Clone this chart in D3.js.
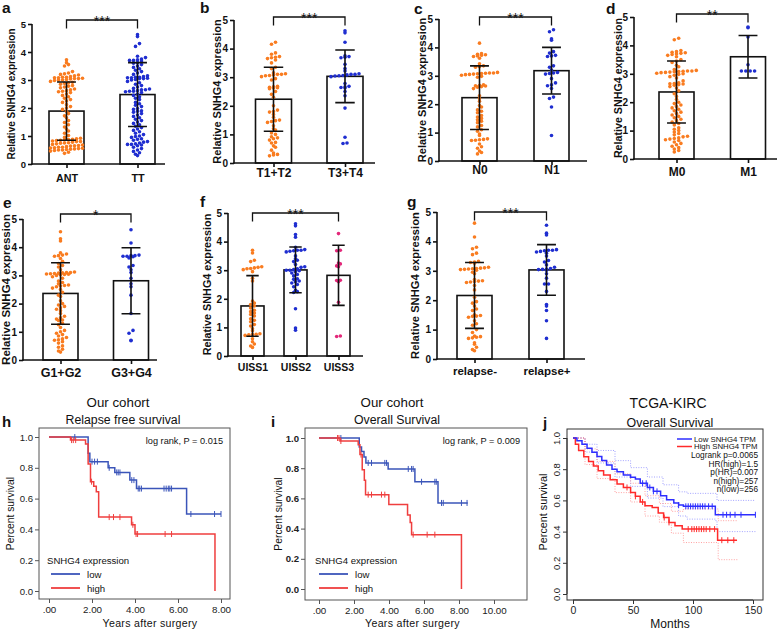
<!DOCTYPE html>
<html><head><meta charset="utf-8">
<script src="https://cdn.jsdelivr.net/npm/d3@7"></script>
<style>body{margin:0;background:#fff} svg{display:block}</style>
</head><body><svg id="fig" width="784" height="630"></svg>
<script>
var FONT = '"Liberation Sans", Arial, sans-serif';
var ORANGE = "#f97c20", BLUE = "#1f2ed0", PINK = "#e3287a";

// ---- scatter/bar data (SNHG4 expression) ----
var catsA = ["ANT", "TT"];
var meanA = [1.89, 2.48], sdA = [1.04, 1.14];
var antVals = [3.72,3.62,3.55,3.5,3.3,3.25,3.22,3.2,3.18,3.15,3.12,3.1,3.1,3.08,3.08,3.06,3.05,3.05,3.04,3.02,3.0,3.0,2.98,2.95,2.92,2.9,2.88,2.85,2.8,2.78,2.75,2.72,2.68,2.65,2.62,2.6,2.58,2.55,2.5,2.45,2.4,2.35,2.3,2.25,2.2,2.12,2.05,2.0,1.95,1.88,1.8,1.72,1.65,1.55,1.48,1.4,1.32,1.25,1.18,1.1,1.02,0.95,0.92,0.9,0.88,0.87,0.86,0.85,0.84,0.82,0.8,0.8,0.78,0.76,0.75,0.74,0.72,0.7,0.68,0.66,0.65,0.64,0.62,0.6,0.6,0.58,0.57,0.56,0.55,0.54,0.53,0.52,0.5,0.5,0.48,0.46,0.42,0.38];
var ttVals = [4.62,4.55,4.3,4.2,3.85,3.8,3.75,3.72,3.7,3.7,3.68,3.62,3.6,3.55,3.5,3.45,3.4,3.35,3.3,3.25,3.2,3.15,3.12,3.1,3.1,3.08,3.08,3.06,3.05,3.05,3.02,3.0,2.95,2.9,2.85,2.8,2.75,2.7,2.68,2.65,2.65,2.62,2.6,2.6,2.58,2.55,2.5,2.45,2.4,2.35,2.3,2.2,2.15,2.1,2.05,1.98,1.95,1.9,1.88,1.85,1.8,1.75,1.7,1.65,1.6,1.55,1.5,1.45,1.4,1.35,1.3,1.25,1.2,1.15,1.1,1.05,1.0,0.98,0.95,0.9,0.88,0.85,0.8,0.78,0.75,0.72,0.7,0.7,0.68,0.65,0.6,0.55,0.5,0.45,0.4,0.35,0.3];

var catsB = ["T1+T2", "T3+T4"];
var meanB = [2.23, 3.03], sdB = [1.12, 0.92];
var t12Vals = [4.22,4.15,3.85,3.8,3.72,3.7,3.68,3.65,3.6,3.5,3.35,3.3,3.15,3.12,3.1,3.1,3.08,3.06,3.05,3.02,2.95,2.9,2.68,2.66,2.65,2.63,2.62,2.6,2.5,2.4,2.3,2.0,1.85,1.8,1.78,1.7,1.6,1.5,1.48,1.45,1.42,1.3,1.2,1.15,1.05,1.0,0.92,0.88,0.85,0.8,0.72,0.7,0.6,0.55,0.45,0.35,0.3,0.28,0.25];
var t34Vals = [4.62,4.55,4.22,3.75,3.72,3.7,3.68,3.45,3.3,3.22,3.12,3.1,3.1,3.08,3.06,3.05,3.04,3.02,2.78,2.68,2.66,2.64,2.62,2.5,2.35,1.92,0.9,0.7,0.68];

var catsC = ["N0", "N1"];
var meanC = [2.23, 3.18], sdC = [1.12, 0.82];
var n0Vals = [4.15,3.78,3.76,3.74,3.72,3.7,3.68,3.62,3.42,3.35,3.32,3.3,3.12,3.1,3.1,3.09,3.08,3.07,3.06,3.05,3.04,3.02,2.98,2.95,2.68,2.66,2.65,2.64,2.62,2.6,2.55,2.3,2.2,2.1,1.95,1.9,1.8,1.75,1.7,1.6,1.55,1.5,1.45,1.4,1.35,1.25,1.2,1.1,1.05,0.95,0.9,0.78,0.76,0.75,0.73,0.72,0.6,0.5,0.45,0.35,0.3,0.25];
var n1Vals = [4.62,4.55,4.3,4.25,3.85,3.8,3.72,3.7,3.68,3.35,3.3,3.2,3.12,3.1,3.08,3.06,2.9,2.75,2.68,2.65,2.55,2.25,2.2,1.9,0.9];

var catsD = ["M0", "M1"];
var meanD = [2.36, 3.6], sdD = [1.09, 0.75];
var m0Vals = [4.25,4.2,3.82,3.78,3.76,3.74,3.72,3.7,3.68,3.65,3.6,3.5,3.45,3.4,3.3,3.25,3.15,3.12,3.1,3.1,3.09,3.08,3.07,3.06,3.05,3.04,3.02,3.0,2.98,2.95,2.9,2.85,2.75,2.68,2.66,2.65,2.64,2.62,2.6,2.55,2.5,2.4,2.3,2.2,2.1,2.0,1.95,1.9,1.85,1.8,1.75,1.7,1.65,1.6,1.55,1.5,1.45,1.4,1.35,1.3,1.25,1.2,1.1,1.05,1.0,0.95,0.9,0.85,0.8,0.78,0.75,0.72,0.7,0.68,0.65,0.6,0.55,0.5,0.45,0.4,0.35,0.3,0.25];
var m1Vals = [4.65,4.62,4.3,3.32,3.1,3.1,3.1,3.1];

var catsE = ["G1+G2", "G3+G4"];
var meanE = [2.36, 2.81], sdE = [1.09, 1.17];
var g12Vals = [4.55,4.3,4.22,3.8,3.76,3.72,3.7,3.68,3.6,3.5,3.42,3.35,3.3,3.2,3.12,3.1,3.1,3.09,3.08,3.07,3.06,3.05,3.04,3.03,3.02,3.0,2.95,2.9,2.8,2.75,2.7,2.66,2.64,2.62,2.6,2.55,2.5,2.4,2.3,2.25,2.1,2.0,1.95,1.9,1.85,1.8,1.75,1.65,1.55,1.5,1.45,1.42,1.4,1.3,1.25,1.15,1.05,1.0,0.95,0.9,0.85,0.8,0.75,0.72,0.7,0.65,0.6,0.5,0.45,0.38,0.32,0.28];
var g34Vals = [4.62,4.15,3.72,3.7,3.7,3.68,3.68,3.66,3.62,3.35,3.3,3.2,3.1,2.9,2.7,2.6,2.3,1.65,1.05,0.95,0.7,0.68];

var catsF = ["UISS1", "UISS2", "UISS3"];
var meanF = [1.75, 3.01, 2.82], sdF = [1.06, 0.8, 1.05];
var uiss1Vals = [3.7,3.6,3.35,3.3,3.12,3.1,3.08,3.06,3.05,3.02,2.95,2.72,2.62,1.92,1.85,1.8,1.75,1.68,1.6,1.55,1.5,1.45,1.4,1.3,1.25,1.2,1.1,1.05,0.95,0.88,0.78,0.76,0.75,0.74,0.72,0.6,0.5,0.42,0.35,0.3];
var uiss2Vals = [4.62,4.55,4.25,4.15,3.8,3.72,3.7,3.7,3.68,3.66,3.64,3.5,3.4,3.35,3.3,3.2,3.12,3.1,3.05,3.02,3.0,3.0,2.98,2.95,2.9,2.85,2.8,2.7,2.68,2.62,2.6,2.55,2.5,2.42,2.3,2.25,2.22,1.65,0.98,0.9];
var uiss3Vals = [4.28,3.7,3.68,3.25,3.22,3.15,3.12,2.65,2.64,2.6,1.88,0.7,0.68];

var catsG = ["relapse-", "relapse+"];
var meanG = [2.16, 3.03], sdG = [1.12, 0.86];
var relNegVals = [4.62,4.15,3.8,3.75,3.6,3.55,3.32,3.3,3.28,3.26,3.12,3.1,3.09,3.08,3.07,3.06,3.05,3.04,3.02,2.95,2.9,2.7,2.66,2.65,2.64,2.62,2.6,2.5,2.35,2.1,1.95,1.9,1.8,1.7,1.65,1.5,1.48,1.46,1.45,1.42,1.3,1.2,1.15,1.0,0.9,0.78,0.76,0.74,0.72,0.7,0.55,0.5,0.4,0.32,0.28];
var relPosVals = [4.55,4.28,4.22,3.72,3.7,3.7,3.68,3.66,3.64,3.6,3.5,3.35,3.3,3.2,3.12,3.08,3.06,3.05,3.04,3.02,2.9,2.75,2.55,2.55,2.3,1.85,1.8,1.65,1.3,0.7];

var barTicks = [0, 1, 2, 3, 4, 5];

// ---- survival data (our cohort) [years, survival] ----
var lowH = [[0,1],[1.82,0.895],[1.9,0.84],[2.75,0.80],[3.06,0.77],[3.76,0.72],[4.07,0.665],[6.4,0.5],[8.0,0.5]];
var lowHCens = [1.2,2.0,2.12,2.25,2.8,3.15,3.22,3.3,3.85,3.95,4.15,4.22,4.3,5.35,5.45,5.55,5.62,5.7,6.6,7.7,8.0];
var highH = [[0,1],[1.0,0.98],[1.7,0.955],[1.82,0.825],[1.93,0.71],[2.08,0.68],[2.2,0.645],[2.31,0.48],[3.84,0.43],[4.0,0.37],[7.72,0]];
var highHCens = [1.05,1.13,1.24,1.98,2.8,3.0,3.3,3.9,4.05,4.12,5.4,5.7];

var lowI = [[0,1],[2.3,0.94],[2.43,0.91],[2.57,0.875],[2.68,0.835],[3.95,0.795],[5.48,0.71],[6.8,0.57],[8.5,0.57]];
var lowICens = [1.25,2.81,3.0,3.76,3.86,5.1,5.29,5.38,5.86,6.62,6.7,7.0,7.1,8.14,8.46];
var highI = [[0,1],[1.2,0.98],[2.24,0.955],[2.34,0.89],[2.47,0.79],[2.59,0.72],[2.66,0.625],[3.99,0.56],[5.06,0.49],[5.21,0.44],[5.29,0.36],[8.14,0]];
var highICens = [1.06,1.14,1.25,2.4,2.81,3.0,3.57,3.76,5.38,6.18,6.62];

var survTicks = [0, 0.2, 0.4, 0.6, 0.8, 1.0];
var yearTicksH = [0, 2, 4, 6, 8];
var yearTicksI = [0, 2, 4, 6, 8, 10];

// ---- TCGA-KIRC [months, survival] ----
var lowJ = [[0,1],[3.3,0.983],[7.5,0.96],[11.7,0.934],[15.8,0.908],[20,0.882],[24,0.855],[28,0.827],[32.5,0.8],[36.7,0.784],[42,0.763],[48,0.748],[52,0.737],[56,0.71],[62,0.683],[67,0.658],[73,0.63],[78,0.604],[84,0.583],[88,0.57],[92,0.562],[118.6,0.508],[152,0.508]];
var highJ = [[0,1],[2,0.96],[4.7,0.92],[9,0.88],[13,0.85],[17,0.82],[21,0.79],[25.5,0.763],[31,0.733],[36.7,0.705],[42,0.683],[48,0.65],[52,0.626],[56,0.59],[60,0.566],[66,0.555],[71,0.52],[75.5,0.49],[80,0.459],[85,0.437],[91,0.416],[120.5,0.345],[136.7,0.345]];
var lowJUp = [[0,1],[10,0.96],[20,0.92],[35,0.855],[48,0.81],[62,0.75],[75,0.70],[88,0.655],[95,0.645],[119,0.64],[120,0.60],[152,0.60]];
var lowJLo = [[0,1],[10,0.91],[20,0.84],[35,0.75],[48,0.69],[62,0.615],[75,0.56],[88,0.50],[95,0.48],[119,0.47],[120,0.40],[152,0.40]];
var highJUp = [[0,1],[10,0.93],[20,0.85],[35,0.77],[48,0.71],[60,0.63],[72,0.58],[82,0.53],[92,0.545],[120,0.545],[121,0.47],[137,0.47]];
var highJLo = [[0,1],[10,0.83],[20,0.74],[35,0.65],[48,0.59],[60,0.50],[72,0.46],[82,0.39],[92,0.33],[120,0.33],[121,0.22],[137,0.22]];
var lowJCens = [58,61,64,67,70,88,94,96,98,100,102,104,106,108,110,113,116,125,128,131,135,140,152];
var highJCens = [45,52,58,76,80,96,99,101,103,105,107,109,111,114,118,124,129,134];
var monthTicks = [0, 50, 100, 150];
var tcgaLegend = ["Low SNHG4 TPM", "High SNHG4 TPM"];
var tcgaStats = ["Logrank p=0.0065", "HR(high)=1.5", "p(HR)=0.007", "n(high)=257", "n(low)=256"];

var svg = d3.select("#fig").attr("font-family", FONT);

function txt(x, y, s, size, opt) {
  opt = opt || {};
  var t = svg.append("text").attr("x", x).attr("y", y).text(s)
    .attr("font-size", size).attr("fill", "#111")
    .attr("font-weight", opt.bold ? "bold" : "normal")
    .attr("text-anchor", opt.anchor || "start");
  if (opt.rot) t.attr("transform", "rotate(-90," + x + "," + y + ")");
  return t;
}

function barPanel(p) {
  var y = d3.scaleLinear().domain([0, 5]).range([p.yBot, p.yTop]);
  var x = d3.scalePoint().domain(p.cats).range([p.c0, p.c1]);
  var g = svg.append("g");

  g.selectAll("rect").data(p.cats).join("rect")
    .attr("x", function(c) { return x(c) - p.bw / 2; })
    .attr("y", function(c, i) { return y(p.mean[i]); })
    .attr("width", p.bw)
    .attr("height", function(c, i) { return p.yBot - y(p.mean[i]); })
    .attr("fill", "#fff").attr("stroke", "#111").attr("stroke-width", 1.6);

  // scatter dots, rows of equal height spread sideways
  p.cats.forEach(function(c, i) {
    var rows = d3.group(p.dots[i], function(v) { return Math.round((p.yBot - y(v)) / 3.5); });
    rows.forEach(function(vals) {
      vals = vals.slice().sort(d3.ascending);
      vals.forEach(function(v, k) {
        g.append("circle")
          .attr("cx", x(c) + (k - (vals.length - 1) / 2) * (p.dx || 4))
          .attr("cy", y(v)).attr("r", 1.8).attr("fill", p.colors[i]);
      });
    });
  });

  // error bars
  p.cats.forEach(function(c, i) {
    var cx = x(c), hw = p.bw * 0.27;
    var hi = y(p.mean[i] + p.sd[i]), lo = y(p.mean[i] - p.sd[i]);
    g.append("path")
      .attr("d", "M" + cx + "," + hi + "V" + lo + "M" + (cx - hw) + "," + hi + "H" + (cx + hw) + "M" + (cx - hw) + "," + lo + "H" + (cx + hw))
      .attr("stroke", "#111").attr("stroke-width", 1.6).attr("fill", "none");
  });

  var ya = g.append("g").attr("transform", "translate(" + p.ax + ",0)")
    .call(d3.axisLeft(y).tickValues(barTicks).tickSize(4).tickSizeOuter(0).tickPadding(2).tickFormat(d3.format("d")));
  ya.attr("font-family", FONT).attr("font-size", p.tf).attr("font-weight", "bold");
  ya.selectAll("path,line").attr("stroke", "#111").attr("stroke-width", 1.6);
  ya.selectAll("text").attr("fill", "#111");
  ya.select(".domain").attr("d", "M0," + (p.yBot + 0.8) + "V" + p.yTop);

  var xa = g.append("g").attr("transform", "translate(0," + p.yBot + ")")
    .call(d3.axisBottom(x).tickSize(4).tickSizeOuter(0));
  xa.select(".domain").remove();
  xa.attr("font-family", FONT).attr("font-size", p.cf).attr("font-weight", "bold");
  xa.selectAll("line").attr("stroke", "#111").attr("stroke-width", 1.6);
  xa.selectAll("text").attr("y", p.cy).attr("dy", 0).attr("fill", "#111");
  g.append("line").attr("x1", p.ax - 0.8).attr("x2", p.xEnd).attr("y1", p.yBot).attr("y2", p.yBot)
    .attr("stroke", "#111").attr("stroke-width", 1.6);

  txt(p.labX, (p.yTop + p.yBot) / 2, "Relative SNHG4 expression", p.fs, {bold: true, anchor: "middle", rot: true})
    .attr("dy", "0.35em");

  // significance bracket
  var x1 = x(p.cats[0]), x2 = x(p.cats[p.cats.length - 1]), by = p.yTop + p.bY;
  g.append("path").attr("d", "M" + x1 + "," + (by + 8.5) + "V" + by + "H" + x2 + "V" + (by + 8.5))
    .attr("stroke", "#111").attr("stroke-width", 1.3).attr("fill", "none");
  txt((x1 + x2) / 2, by + 6, p.stars, 14, {anchor: "middle"});

  txt(p.lx, p.ly, p.letter, 15.5, {bold: true});
}

barPanel({letter: "a", lx: 2, ly: 13, ax: 32, yTop: 24, yBot: 164, c0: 66.5, c1: 137.5, bw: 35, xEnd: 165,
  cats: catsA, mean: meanA, sd: sdA, dots: [antVals, ttVals], colors: [ORANGE, BLUE],
  fs: 10, tf: 9.5, cf: 10.8, cy: 18, labX: 11, bY: -4, stars: "***"});
barPanel({letter: "b", lx: 200, ly: 13, ax: 234, yTop: 20, yBot: 163, c0: 273.5, c1: 345, bw: 36, xEnd: 375,
  cats: catsB, mean: meanB, sd: sdB, dots: [t12Vals, t34Vals], colors: [ORANGE, BLUE],
  fs: 11, tf: 10, cf: 12, cy: 14, labX: 217, bY: -3, stars: "***"});
barPanel({letter: "c", lx: 414, ly: 14, ax: 439, yTop: 19, yBot: 161, c0: 479.5, c1: 551.5, bw: 35, xEnd: 587,
  cats: catsC, mean: meanC, sd: sdC, dots: [n0Vals, n1Vals], colors: [ORANGE, BLUE],
  fs: 11, tf: 10, cf: 12, cy: 13, labX: 422, bY: -2, stars: "***"});
barPanel({letter: "d", lx: 606, ly: 14, ax: 634, yTop: 17, yBot: 159, c0: 676.5, c1: 748, bw: 35, xEnd: 777,
  cats: catsD, mean: meanD, sd: sdD, dots: [m0Vals, m1Vals], colors: [ORANGE, BLUE], dx: 4.4,
  fs: 10.7, tf: 10, cf: 12, cy: 17, labX: 618, bY: -3, stars: "**"});
barPanel({letter: "e", lx: 3, ly: 208, ax: 23, yTop: 219, yBot: 360, c0: 60.5, c1: 131, bw: 35, xEnd: 157,
  cats: catsE, mean: meanE, sd: sdE, dots: [g12Vals, g34Vals], colors: [ORANGE, BLUE],
  fs: 11.5, tf: 10, cf: 12.5, cy: 17, labX: 6, bY: -5, stars: "*"});
barPanel({letter: "f", lx: 200, ly: 207, ax: 228, yTop: 213, yBot: 356, c0: 252.5, c1: 338.5, bw: 23, xEnd: 363,
  cats: catsF, mean: meanF, sd: sdF, dots: [uiss1Vals, uiss2Vals, uiss3Vals], colors: [ORANGE, BLUE, PINK], dx: 3.7,
  fs: 10.8, tf: 10, cf: 10.5, cy: 15, labX: 207, bY: 0, stars: "***"});
barPanel({letter: "g", lx: 407, ly: 207, ax: 437, yTop: 212, yBot: 359, c0: 474.5, c1: 546.5, bw: 35, xEnd: 585,
  cats: catsG, mean: meanG, sd: sdG, dots: [relNegVals, relPosVals], colors: [ORANGE, BLUE],
  fs: 11.2, tf: 10, cf: 11.5, cy: 16, labX: 415, bY: 0, stars: "***"});

// ---- Kaplan-Meier panels ----
function survAt(steps, t) {
  var s = steps[0][1];
  steps.forEach(function(d) { if (d[0] <= t) s = d[1]; });
  return s;
}

function drawCurve(g, x, y, steps, cens, color, w, ch) {
  var line = d3.line().x(function(d) { return x(d[0]); }).y(function(d) { return y(d[1]); }).curve(d3.curveStepAfter);
  g.append("path").attr("d", line(steps)).attr("fill", "none").attr("stroke", color).attr("stroke-width", w);
  g.selectAll(null).data(cens).join("line")
    .attr("x1", function(t) { return x(t); }).attr("x2", function(t) { return x(t); })
    .attr("y1", function(t) { return y(survAt(steps, t)) - ch; })
    .attr("y2", function(t) { return y(survAt(steps, t)) + ch; })
    .attr("stroke", color).attr("stroke-width", 1);
}

function kmPanel(p) {
  var x = d3.scaleLinear().domain([0, p.xMax]).range([p.x0, p.x1]);
  var y = d3.scaleLinear().domain([0, 1]).range([p.y0, p.y1]);
  var g = svg.append("g");
  g.append("rect").attr("x", p.fx).attr("y", p.fy).attr("width", p.fw).attr("height", p.fh)
    .attr("fill", "none").attr("stroke", "#555").attr("stroke-width", 1);

  var ya = g.append("g").attr("transform", "translate(" + p.fx + ",0)")
    .call(d3.axisLeft(y).tickValues(survTicks).tickSize(4).tickPadding(2).tickFormat(d3.format(".1f")));
  ya.select(".domain").remove();
  ya.attr("font-family", FONT).attr("font-size", 9.6).attr("font-weight", p.boldY ? "bold" : "normal");
  ya.selectAll("line").attr("stroke", "#555");
  ya.selectAll("text").attr("fill", "#222");

  var xa = g.append("g").attr("transform", "translate(0," + (p.fy + p.fh) + ")")
    .call(d3.axisBottom(x).tickValues(p.xTicks).tickSize(4).tickPadding(3)
      .tickFormat(function(d) { return d === 0 ? ".00" : d.toFixed(2); }));
  xa.select(".domain").remove();
  xa.attr("font-family", FONT).attr("font-size", 9.8);
  xa.selectAll("line").attr("stroke", "#555");
  xa.selectAll("text").attr("fill", "#222");

  drawCurve(g, x, y, p.low, p.lowCens, "#3b55b9", 1.5, 3);
  drawCurve(g, x, y, p.high, p.highCens, "#ef3e3e", 1.5, 3);

  txt(p.fx + p.fw - 7, p.fy + 16, p.logrank, 9.2, {anchor: "end"});
  txt(p.legX, p.fy + 136, "SNHG4 expression", 9.6);
  g.append("line").attr("x1", p.legX + 4).attr("x2", p.legX + 33).attr("y1", p.fy + 146).attr("y2", p.fy + 146)
    .attr("stroke", "#3b55b9").attr("stroke-width", 1.8);
  g.append("line").attr("x1", p.legX + 4).attr("x2", p.legX + 33).attr("y1", p.fy + 160).attr("y2", p.fy + 160)
    .attr("stroke", "#ef3e3e").attr("stroke-width", 1.8);
  txt(p.legX + 40, p.fy + 149.5, "low", 9.6);
  txt(p.legX + 40, p.fy + 163.5, "high", 9.6);

  txt(p.titleX, 424, p.title, 12.3, {anchor: "middle"});
  txt(p.titleX - 5, 407, "Our cohort", 13.3, {anchor: "middle"});
  txt(p.labX, p.fy + p.fh / 2, "Percent survival", 10.3, {anchor: "middle", rot: true}).attr("dy", "0.35em");
  txt((p.x0 + p.x1) / 2 + p.xlOff, 627, "Years after surgery", 10.6, {anchor: "middle"}).attr("letter-spacing", 0.3);
  txt(p.lx, 427, p.letter, 15, {bold: true});
}

kmPanel({letter: "h", lx: 2, fx: 39, fy: 428, fw: 191, fh: 171, x0: 49, x1: 221, y0: 591, y1: 437, xMax: 8,
  xTicks: yearTicksH, low: lowH, lowCens: lowHCens, high: highH, highCens: highHCens,
  logrank: "log rank, P = 0.015", legX: 47, title: "Relapse free survival", titleX: 123, labX: 10, xlOff: 15, boldY: false});
kmPanel({letter: "i", lx: 271, fx: 305, fy: 428, fw: 222, fh: 172, x0: 319, x1: 494, y0: 589, y1: 438, xMax: 10,
  xTicks: yearTicksI, low: lowI, lowCens: lowICens, high: highI, highCens: highICens,
  logrank: "log rank, P = 0.009", legX: 315, title: "Overall Survival", titleX: 397, labX: 278, xlOff: 6, boldY: true});

// ---- TCGA panel ----
(function() {
  var x = d3.scaleLinear().domain([0, 150]).range([573, 753]);
  var y = d3.scaleLinear().domain([0, 1]).range([594, 438]);
  var g = svg.append("g");
  g.append("rect").attr("x", 567).attr("y", 429).attr("width", 196).attr("height", 171)
    .attr("fill", "none").attr("stroke", "#333").attr("stroke-width", 1);

  var ya = g.append("g").attr("transform", "translate(567,0)")
    .call(d3.axisLeft(y).tickValues(survTicks).tickSize(4).tickSizeOuter(0).tickFormat(d3.format(".1f")));
  ya.select(".domain").attr("d", "M0," + y(0) + "V" + y(1)).attr("stroke", "#333");
  ya.selectAll("line").attr("stroke", "#333");
  ya.attr("font-family", FONT).attr("font-size", 9.5);
  ya.selectAll("text")
    .attr("x", 0).attr("y", 0).attr("dy", 0)
    .attr("text-anchor", "middle")
    .attr("transform", "translate(-7,0) rotate(-90)")
    .attr("fill", "#222");

  var xa = g.append("g").attr("transform", "translate(0,600)")
    .call(d3.axisBottom(x).tickValues(monthTicks).tickSize(4).tickSizeOuter(0).tickPadding(3));
  xa.select(".domain").attr("d", "M" + x(0) + ",0H" + x(150)).attr("stroke", "#333");
  xa.selectAll("line").attr("stroke", "#333");
  xa.attr("font-family", FONT).attr("font-size", 10.5);
  xa.selectAll("text").attr("fill", "#222");

  var line = d3.line().x(function(d) { return x(d[0]); }).y(function(d) { return y(d[1]); }).curve(d3.curveStepAfter);
  [[lowJUp, "#8c8cff"], [lowJLo, "#8c8cff"], [highJUp, "#ff8c8c"], [highJLo, "#ff8c8c"]].forEach(function(c) {
    g.append("path").attr("d", line(c[0])).attr("fill", "none").attr("stroke", c[1])
      .attr("stroke-width", 0.8).attr("stroke-dasharray", "1,1.5");
  });
  drawCurve(g, x, y, highJ, highJCens, "#ff2a2a", 1.5, 3);
  drawCurve(g, x, y, lowJ, lowJCens, "#2e2eff", 1.5, 3);

  g.selectAll(null).data(tcgaLegend).join("line")
    .attr("x1", 677).attr("x2", 692)
    .attr("y1", function(d, i) { return 439 + i * 7.5; }).attr("y2", function(d, i) { return 439 + i * 7.5; })
    .attr("stroke", function(d, i) { return i ? "#ff2a2a" : "#2e2eff"; }).attr("stroke-width", 1.5);
  tcgaLegend.forEach(function(s, i) { txt(694, 441.8 + i * 7.5, s, 7.8); });
  tcgaStats.forEach(function(s, i) { txt(758, 458 + i * 8.5, s, 8.3, {anchor: "end"}); });

  txt(668, 408, "TCGA-KIRC", 14, {anchor: "middle"});
  txt(670, 427, "Overall Survival", 12.4, {anchor: "middle"});
  txt(543, 512, "Percent survival", 10.8, {anchor: "middle", rot: true}).attr("dy", "0.35em");
  txt(670, 628, "Months", 12, {anchor: "middle"});
  txt(543, 428, "j", 15, {bold: true});
})();
</script>
</body></html>
